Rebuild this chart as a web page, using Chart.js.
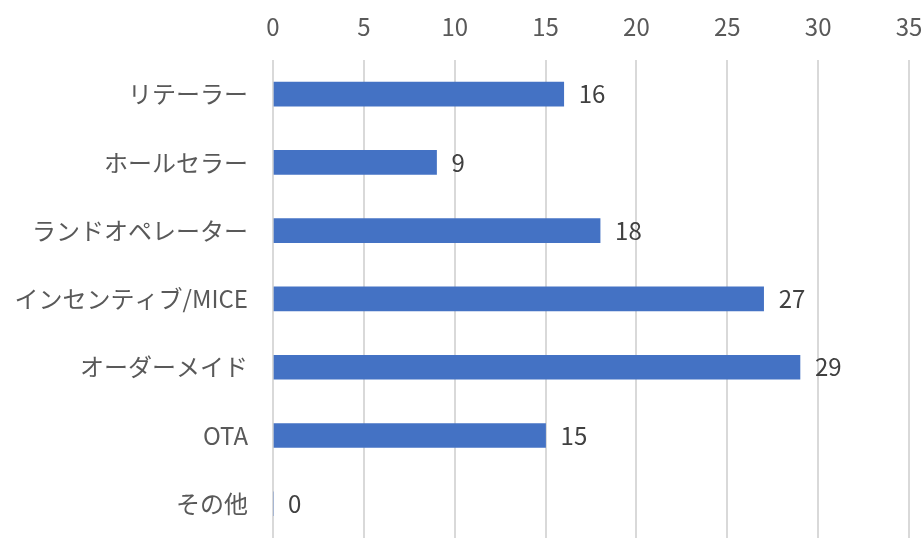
<!DOCTYPE html>
<html lang="ja">
  <head>
    <meta charset="utf-8" />
    <title>グラフ</title>
    <script src="https://cdn.jsdelivr.net/npm/chart.js@4/dist/chart.umd.min.js"></script>
    <style>
      html, body { margin: 0; padding: 0; background: #fff; overflow: hidden; }
    </style>
  </head>
  <body>
    <canvas id="barChart" width="924" height="538"></canvas>
    <script>
      // データ
      const categories = ["リテーラー", "ホールセラー", "ランドオペレーター", "インセンティブ/MICE", "オーダーメイド", "OTA", "その他"];
      const counts = [16, 9, 18, 27, 29, 15, 0];

      const fontFamily = '"Noto Sans CJK JP", "Noto Sans", sans-serif';

      // 棒の右に値を書く
      const valueLabels = {
        id: "valueLabels",
        afterDatasetsDraw(chart) {
          const ctx = chart.ctx;
          const meta = chart.getDatasetMeta(0);
          ctx.save();
          ctx.font = "24px " + fontFamily;
          ctx.fillStyle = "#404040";
          ctx.textAlign = "left";
          ctx.textBaseline = "middle";
          meta.data.forEach((bar, i) => {
            ctx.fillText(String(counts[i]), bar.x + 15, bar.y);
          });
          ctx.restore();
        },
      };

      const ctx = document.getElementById("barChart").getContext("2d");
      const chart = new Chart(ctx, {
        type: "bar",
        plugins: [valueLabels],
        data: {
          labels: categories,
          datasets: [
            {
              data: counts,
              backgroundColor: "#4472C4",
              barThickness: 24,
            },
          ],
        },
        options: {
          indexAxis: "y",
          responsive: false,
          animation: false,
          layout: { padding: { left: 0, right: 15, top: 0, bottom: 0 } },
          plugins: {
            legend: { display: false },
            tooltip: { enabled: false },
          },
          scales: {
            x: {
              position: "top",
              min: 0,
              max: 35,
              ticks: {
                stepSize: 5,
                color: "#595959",
                font: { size: 24, family: fontFamily },
                padding: 0,
              },
              // 目盛り線は透明にして、ラベルとの間隔だけに使う
              grid: { color: "#d9d9d9", lineWidth: 2, drawTicks: true, tickLength: 19, tickColor: "rgba(0,0,0,0)" },
              border: { display: false },
              afterFit(scale) {
                scale.height = 60;
              },
            },
            y: {
              ticks: {
                color: "#595959",
                font: { size: 24, family: fontFamily, lineHeight: 0.01 },
                padding: 0,
              },
              grid: { display: true, drawOnChartArea: false, drawTicks: true, tickLength: 25, tickColor: "rgba(0,0,0,0)", color: "rgba(0,0,0,0)" },
              border: { display: false },
              afterFit(scale) {
                scale.width = 273;
              },
            },
          },
        },
      });
    </script>
  </body>
</html>
